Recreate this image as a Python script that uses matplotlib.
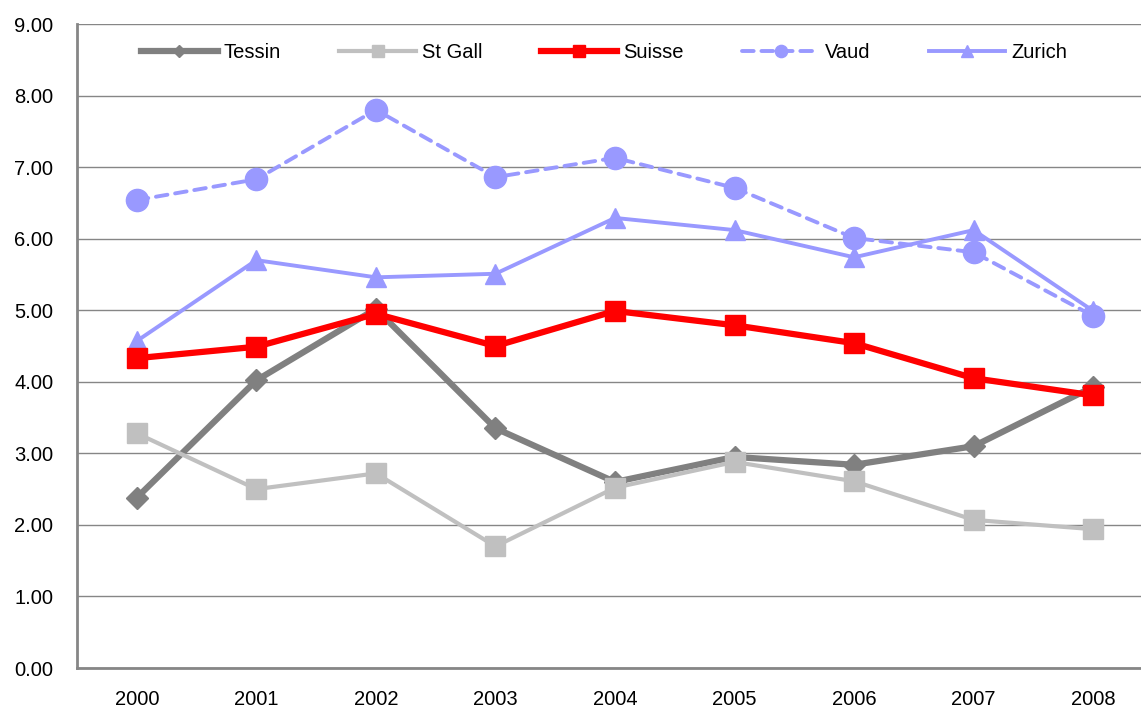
import matplotlib
matplotlib.use('Agg')
import matplotlib.pyplot as plt

# 字体
plt.rcParams['font.family'] = ['Liberation Sans', 'DejaVu Sans']

years = ['2000', '2001', '2002', '2003', '2004', '2005', '2006', '2007', '2008']
tessin = [2.38, 4.02, 5.02, 3.35, 2.60, 2.95, 2.84, 3.10, 3.93]
st_gall = [3.28, 2.50, 2.72, 1.70, 2.52, 2.88, 2.61, 2.07, 1.94]
suisse = [4.33, 4.49, 4.95, 4.50, 4.99, 4.79, 4.54, 4.05, 3.81]
vaud = [6.54, 6.83, 7.80, 6.86, 7.13, 6.71, 6.01, 5.81, 4.92]
zurich = [4.57, 5.70, 5.46, 5.51, 6.29, 6.12, 5.74, 6.12, 4.99]
y_ticks = [0, 1, 2, 3, 4, 5, 6, 7, 8, 9]

fig = plt.figure(figsize=(11.41, 7.13), dpi=100)
ax = fig.add_axes([0.0675, 0.0631, 0.943, 0.9032])

x = range(len(years))
grey = '#808080'
lav = '#9999FF'

ax.plot(x, tessin, color=grey, lw=4.5, marker='D', markersize=11, label='Tessin', zorder=3)
ax.plot(x, st_gall, color='#C0C0C0', lw=3, marker='s', markersize=15, label='St Gall', zorder=3)
ax.plot(x, suisse, color='#FF0000', lw=4.5, marker='s', markersize=15, label='Suisse', zorder=4)
ax.plot(x, vaud, color=lav, lw=2.8, ls=(0, (3, 2)), dash_capstyle='round',
        marker='o', markersize=16, label='Vaud', zorder=3)
ax.plot(x, zurich, color=lav, lw=2.8, marker='^', markersize=15, label='Zurich', zorder=3)

ax.set_xlim(-0.5, 8.5)
ax.set_ylim(0, 9)
ax.set_xticks(list(x))
ax.set_xticklabels(years)
ax.set_yticks(y_ticks)
ax.set_yticklabels(['%.2f' % v for v in y_ticks])
ax.tick_params(axis='both', length=0, labelsize=14.5, colors='black')
ax.tick_params(axis='x', pad=16)
ax.tick_params(axis='y', pad=17)

ax.grid(axis='y', color='#868686', lw=1)
ax.set_axisbelow(True)
for s in ['top', 'right']:
    ax.spines[s].set_visible(False)
for s in ['left', 'bottom']:
    ax.spines[s].set_color('#868686')
    ax.spines[s].set_linewidth(2)

ax.legend(loc='upper center', bbox_to_anchor=(0.49, 0.998), ncol=5, frameon=False,
          fontsize=14.5, handlelength=3.8, handletextpad=0.3, columnspacing=2.9,
          markerscale=0.55)

fig.savefig('out.png', dpi=100)
